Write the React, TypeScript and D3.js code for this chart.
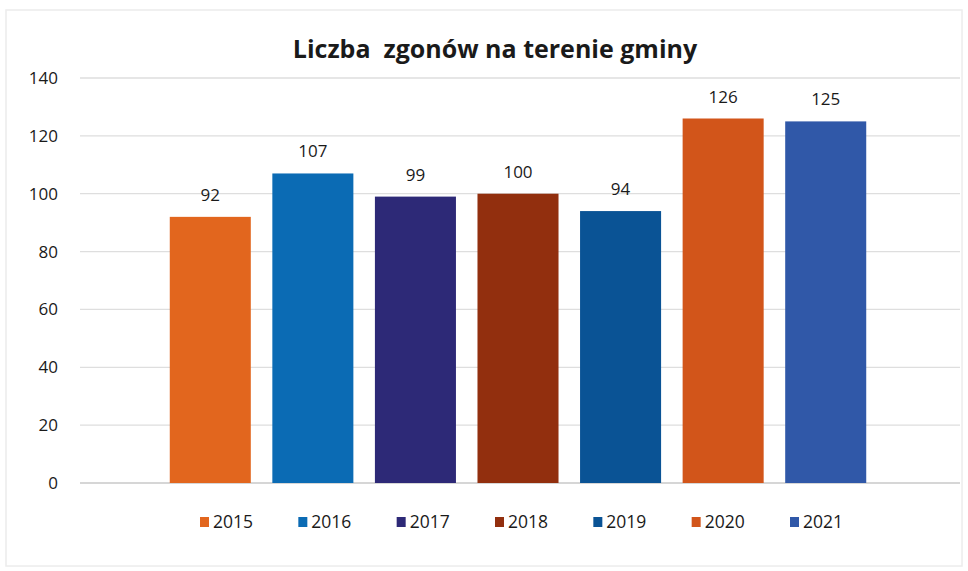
import React from "react";
import * as d3 from "d3";

const years = ["2015", "2016", "2017", "2018", "2019", "2020", "2021"];
const deaths = [92, 107, 99, 100, 94, 126, 125];
const colors = ["#E2661E", "#0B6BB4", "#2D2977", "#922F0E", "#0A5395", "#D2551A", "#3058A8"];
const yTicks = [0, 20, 40, 60, 80, 100, 120, 140];
const title = "Liczba  zgonów na terenie gminy";

const W = 968;
const H = 571;
const plotLeft = 80;
const plotRight = 960;
const plotTop = 78;
const plotBottom = 483;

export default function App() {
  const y = d3.scaleLinear().domain([0, 140]).range([plotBottom, plotTop]);
  const x = d3
    .scaleBand<string>()
    .domain(years)
    .range([159, 877])
    .paddingInner(0.21)
    .paddingOuter(0.105);
  const font = "'Open Sans', 'Noto Sans', sans-serif";
  const legend = d3.scalePoint<string>().domain(years).range([200, 790]);
  return (
    <div style={{ position: "absolute", left: 0, top: 0 }}>
      <svg width={W} height={H} style={{ display: "block", background: "#fff" }}>
        <rect x={6} y={10} width={956} height={556} fill="#fff" stroke="#ececec" strokeWidth={1.5} />
        <text
          x={495}
          y={58}
          textAnchor="middle"
          fontFamily={font}
          fontWeight={700}
          fontSize={25}
          fill="#1a1a1a"
          style={{ whiteSpace: "pre" }}
        >
          {title}
        </text>
        {yTicks.map((t) => (
          <g key={t}>
            <line
              x1={plotLeft}
              x2={plotRight}
              y1={y(t)}
              y2={y(t)}
              stroke={t === 0 ? "#c8c8c8" : "#dedede"}
              strokeWidth={1.3}
            />
            <text
              x={58}
              y={y(t)}
              dy="0.35em"
              textAnchor="end"
              fontFamily={font}
              fontSize={17}
              fill="#1a1a1a"
            >
              {t}
            </text>
          </g>
        ))}
        {years.map((yr, i) => (
          <g key={yr}>
            <rect
              x={x(yr)}
              y={y(deaths[i])}
              width={x.bandwidth()}
              height={plotBottom - y(deaths[i])}
              fill={colors[i]}
            />
            <text
              x={(x(yr) as number) + x.bandwidth() / 2}
              y={y(deaths[i]) - 16}
              textAnchor="middle"
              fontFamily={font}
              fontSize={17}
              fill="#1a1a1a"
            >
              {deaths[i]}
            </text>
          </g>
        ))}
        {years.map((yr, i) => (
          <g key={"lg" + yr} transform={`translate(${legend(yr)},522)`}>
            <rect x={0} y={-5} width={9} height={10} fill={colors[i]} />
            <text x={13} y={0} dy="0.36em" fontFamily={font} fontSize={17.5} fill="#1a1a1a">
              {yr}
            </text>
          </g>
        ))}
      </svg>
    </div>
  );
}
